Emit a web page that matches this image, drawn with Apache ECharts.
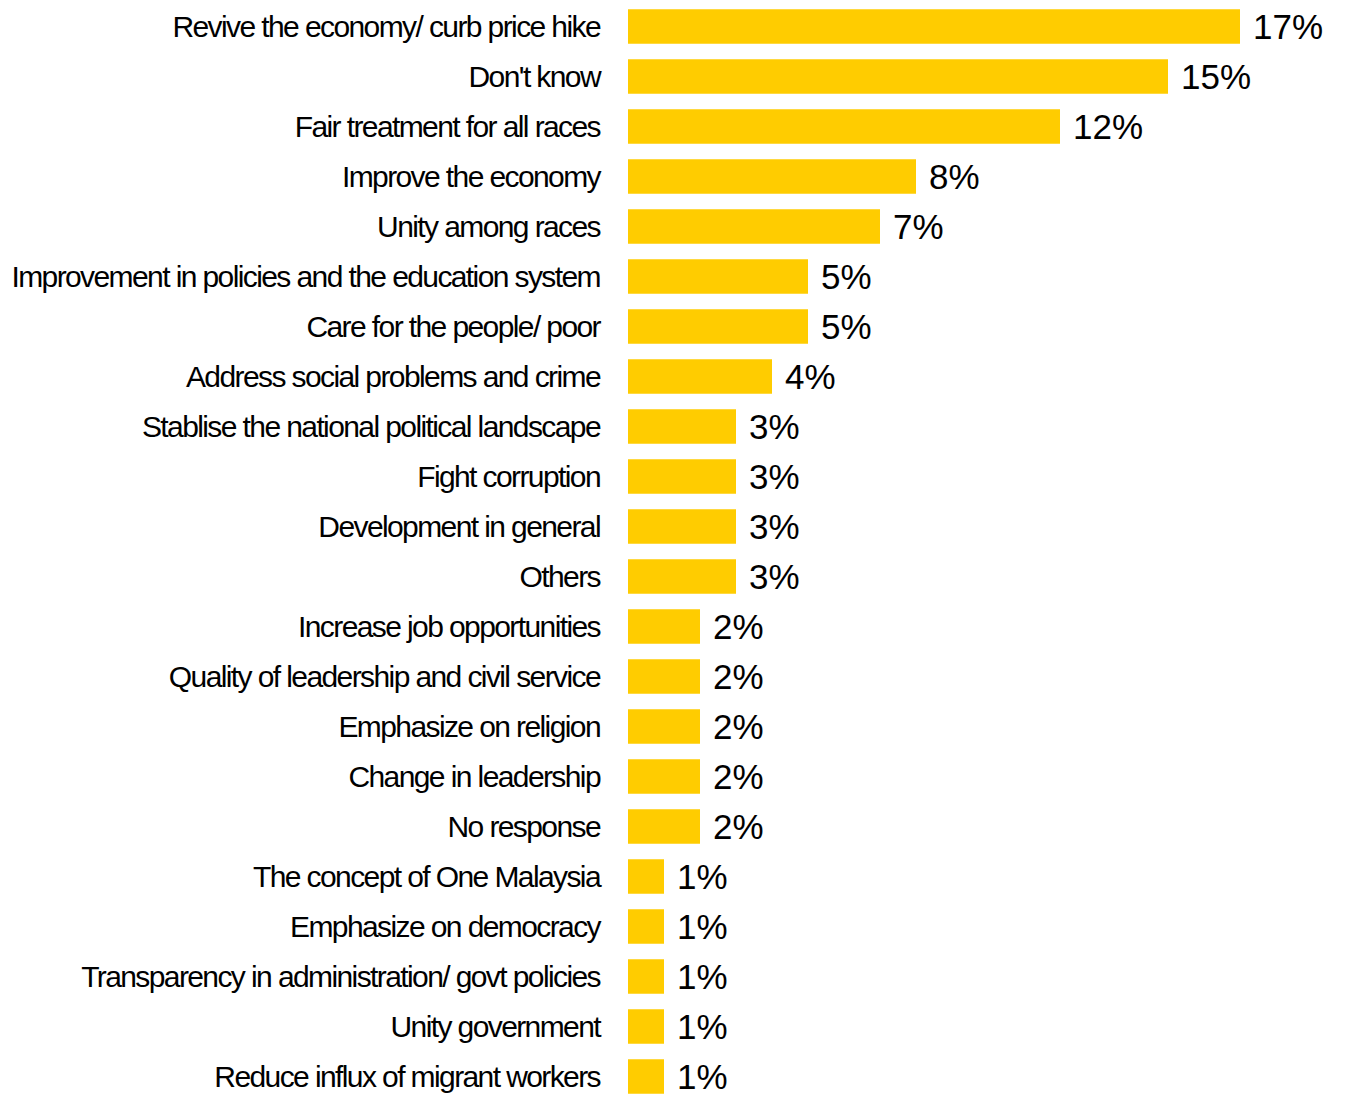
<!DOCTYPE html>
<html>
<head>
<meta charset="utf-8">
<script src="https://cdn.jsdelivr.net/npm/echarts@6/dist/echarts.min.js"></script>
<style>
html,body{margin:0;padding:0;background:#fff;}
#chart{width:1345px;height:1096px;}
#chart text[text-anchor="end"]{letter-spacing:-1.6px;}
</style>
</head>
<body>
<div id="chart"></div>
<script>
const categories = [
  "Revive the economy/ curb price hike",
  "Don't know",
  "Fair treatment for all races",
  "Improve the economy",
  "Unity among races",
  "Improvement in policies and the education system",
  "Care for the people/ poor",
  "Address social problems and crime",
  "Stablise the national political landscape",
  "Fight corruption",
  "Development in general",
  "Others",
  "Increase job opportunities",
  "Quality of leadership and civil service",
  "Emphasize on religion",
  "Change in leadership",
  "No response",
  "The concept of One Malaysia",
  "Emphasize on democracy",
  "Transparency in administration/ govt policies",
  "Unity government",
  "Reduce influx of migrant workers"
];
const values = [17, 15, 12, 8, 7, 5, 5, 4, 3, 3, 3, 3, 2, 2, 2, 2, 2, 1, 1, 1, 1, 1];

const chart = echarts.init(document.getElementById('chart'), null, {renderer: 'svg'});
chart.setOption({
  animation: false,
  backgroundColor: '#ffffff',
  grid: {left: 628, top: 1.5, width: 612, height: 1100, containLabel: false, outerBoundsMode: 'none'},
  xAxis: {
    type: 'value', min: 0, max: 17, show: false
  },
  yAxis: {
    type: 'category',
    data: categories,
    inverse: true,
    axisLine: {show: false},
    axisTick: {show: false},
    splitLine: {show: false},
    axisLabel: {
      margin: 28,
      color: '#000000',
      fontFamily: '"Liberation Sans", Arial, sans-serif',
      fontSize: 30,
      padding: [4, 0, 0, 0]
    }
  },
  series: [{
    type: 'bar',
    data: values,
    barCategoryGap: '31%',
    itemStyle: {color: '#FFCC00'},
    label: {
      show: true,
      position: 'right',
      distance: 13,
      formatter: '{c}%',
      color: '#000000',
      fontFamily: '"Liberation Sans", Arial, sans-serif',
      fontSize: 35,
      padding: [4, 0, 0, 0]
    }
  }]
});
</script>
</body>
</html>
